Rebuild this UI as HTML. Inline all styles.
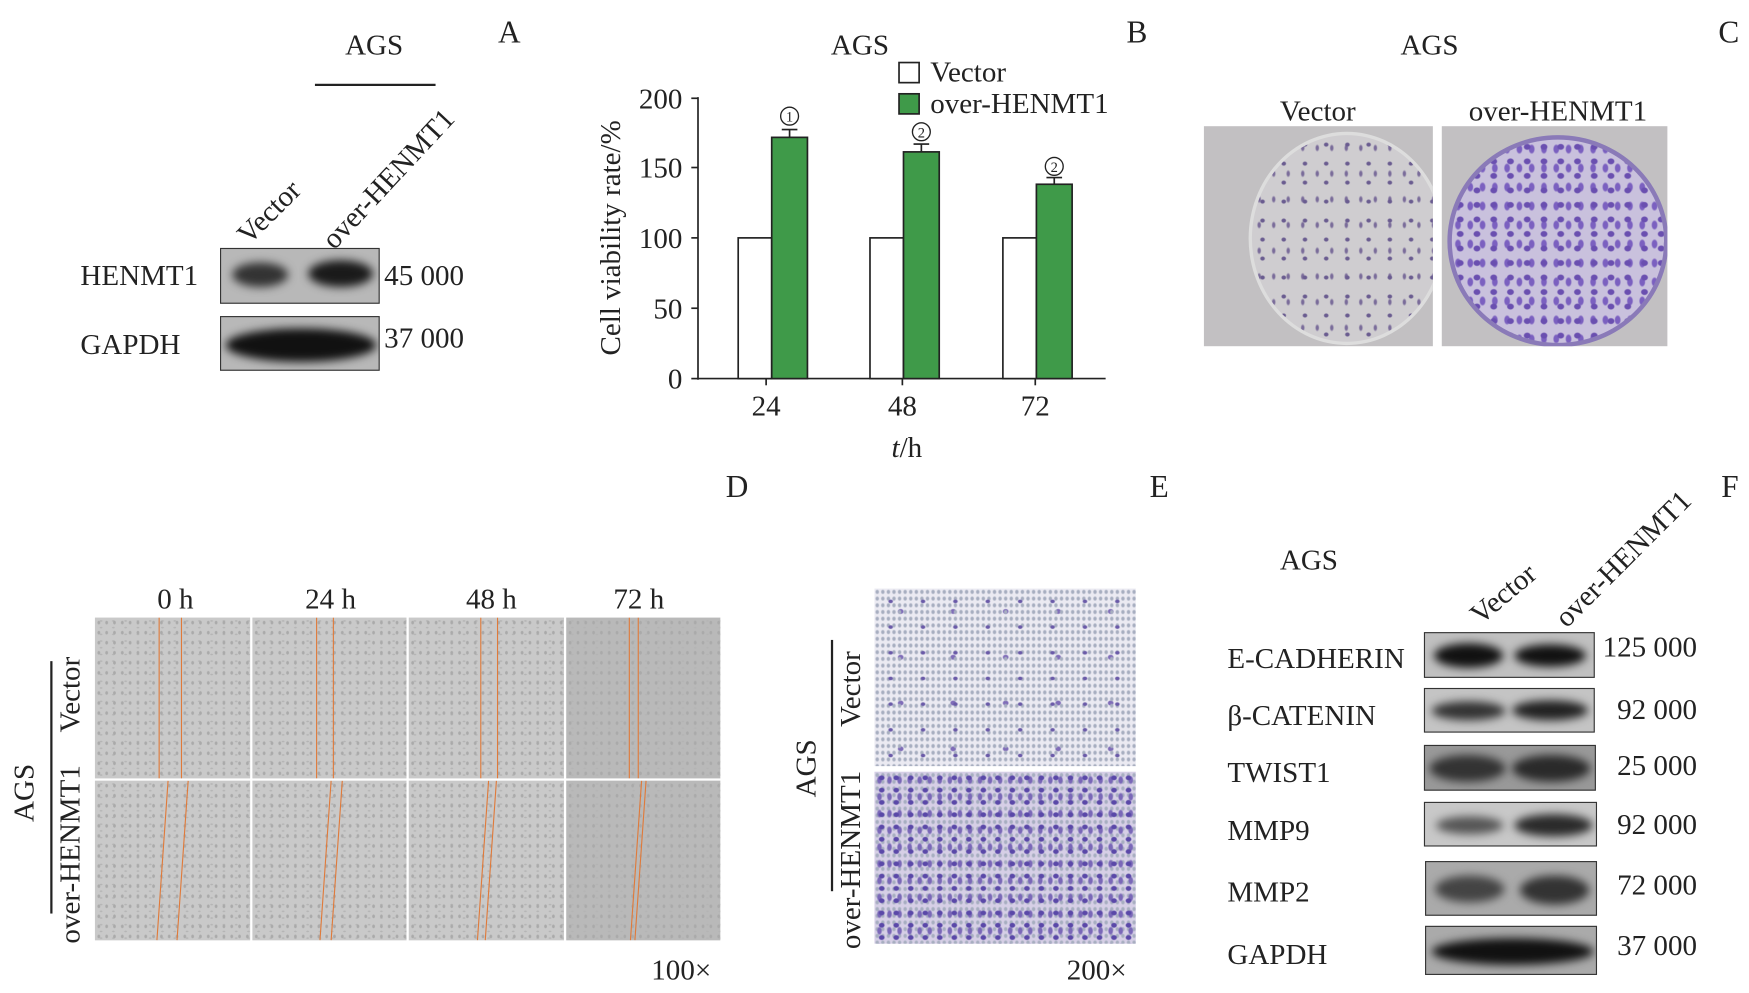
<!DOCTYPE html>
<html><head><meta charset="utf-8"><style>
html,body{margin:0;padding:0;background:#fff;width:1749px;height:993px;overflow:hidden}
#w{position:absolute;left:0;top:0;width:1566px;height:889px;transform:scale(1.1168);transform-origin:0 0;font-family:"Liberation Serif",serif;color:#222}
.t{position:absolute;font-size:26px;white-space:nowrap;line-height:1}
.c{transform:translate(-50%,-50%)}
.blot{position:absolute;border:1.5px solid #333;background:#b8b8b8;overflow:hidden;box-sizing:border-box}
.band{position:absolute;border-radius:50%;background:#111;filter:blur(4px)}
.img{position:absolute;overflow:hidden}
.sc{background:#c9c9c9;background-image:radial-gradient(#aaa 1px,transparent 1.5px),radial-gradient(#b4b4b4 1px,transparent 1.5px);background-size:7px 9px,11px 6px}
.sc2{background-color:#b9b9b9}
.ol{position:absolute;top:0;width:1px;height:100%;background:#e07a3a}
.tw{background:#ebeaf2;background-image:radial-gradient(#6a5aa8 1.5px,transparent 2.5px),radial-gradient(#a7aec0 1px,transparent 2px),radial-gradient(#7f6cb8 2px,transparent 3px);background-size:29px 23px,5px 6px,47px 41px}
.tw2{background:#d6cfe6;background-image:radial-gradient(#5a48a8 2px,transparent 3px),radial-gradient(#7a68b8 1.5px,transparent 2.5px),radial-gradient(#a7aec0 1px,transparent 2px);background-size:13px 11px,9px 15px,5px 6px}
.dish{background:#c2c0c2}
</style></head><body><div id="w">

<!-- Panel A -->
<div class="t c" style="left:335px;top:41px">AGS</div>
<div style="position:absolute;left:282px;top:75px;width:108px;height:2px;background:#222"></div>
<div class="t c" style="left:456px;top:30px;font-size:28px">A</div>
<div class="t" style="left:208px;top:205px;transform:rotate(-45deg);transform-origin:0 0">Vector</div>
<div class="t" style="left:284px;top:210px;transform:rotate(-47deg);transform-origin:0 0">over-HENMT1</div>
<div class="t" style="left:72px;top:234px">HENMT1</div>
<div class="t" style="left:72px;top:296px">GAPDH</div>
<div class="t" style="left:344px;top:234px">45 000</div>
<div class="t" style="left:344px;top:290px">37 000</div>
<div class="blot" style="left:197px;top:222px;width:143px;height:50px"><div class="band" style="left:10px;top:12px;width:50px;height:22px;background:#333"></div><div class="band" style="left:78px;top:10px;width:58px;height:24px;background:#1a1a1a"></div></div>
<div class="blot" style="left:197px;top:283px;width:143px;height:49px"><div class="band" style="left:4px;top:10px;width:135px;height:30px"></div></div>

<!-- Panel B -->
<div class="t c" style="left:770px;top:41px">AGS</div>
<div class="t c" style="left:1018px;top:30px;font-size:28px">B</div>
<svg style="position:absolute;left:0;top:0" width="1566" height="889" font-family="Liberation Serif" font-size="26" fill="#222">
<line x1="625" y1="87" x2="625" y2="340" stroke="#222" stroke-width="1.5"/>
<line x1="625" y1="339" x2="990" y2="339" stroke="#222" stroke-width="1.5"/>
<g stroke="#222" stroke-width="1.5"><line x1="619" y1="339" x2="625" y2="339"/><line x1="619" y1="276" x2="625" y2="276"/><line x1="619" y1="213" x2="625" y2="213"/><line x1="619" y1="150" x2="625" y2="150"/><line x1="619" y1="88" x2="625" y2="88"/>
<line x1="686" y1="339" x2="686" y2="345"/><line x1="808" y1="339" x2="808" y2="345"/><line x1="927" y1="339" x2="927" y2="345"/></g>
<g text-anchor="end"><text x="611" y="348">0</text><text x="611" y="285">50</text><text x="611" y="222">100</text><text x="611" y="159">150</text><text x="611" y="97">200</text></g>
<g text-anchor="middle"><text x="686" y="372">24</text><text x="808" y="372">48</text><text x="927" y="372">72</text></g>
<text x="812" y="409" text-anchor="middle"><tspan font-style="italic">t</tspan>/h</text>
<text transform="translate(555,213) rotate(-90)" text-anchor="middle">Cell viability rate/%</text>
<g stroke="#222" stroke-width="1.5">
<rect x="661" y="213" width="30" height="126" fill="#fff"/><rect x="691" y="123" width="32" height="216" fill="#3f9a49"/>
<rect x="779" y="213" width="30" height="126" fill="#fff"/><rect x="809" y="136" width="32" height="203" fill="#3f9a49"/>
<rect x="898" y="213" width="30" height="126" fill="#fff"/><rect x="928" y="165" width="32" height="174" fill="#3f9a49"/>
<line x1="707" y1="123" x2="707" y2="116"/><line x1="700" y1="116" x2="714" y2="116"/>
<line x1="825" y1="136" x2="825" y2="129"/><line x1="818" y1="129" x2="832" y2="129"/>
<line x1="944" y1="165" x2="944" y2="159"/><line x1="937" y1="159" x2="951" y2="159"/>
<rect x="805" y="56" width="18" height="18" fill="#fff"/><rect x="805" y="84" width="18" height="18" fill="#3f9a49"/>
</g>
<g fill="none" stroke="#222" stroke-width="1.2"><circle cx="707" cy="104" r="8"/><circle cx="825" cy="118" r="8"/><circle cx="944" cy="149" r="8"/></g>
<g font-size="13" text-anchor="middle"><text x="707" y="109">1</text><text x="825" y="123">2</text><text x="944" y="154">2</text></g>
<text x="833" y="73">Vector</text><text x="833" y="101">over-HENMT1</text>
</svg>

<!-- Panel C -->
<div class="t c" style="left:1280px;top:41px">AGS</div>
<div class="t c" style="left:1548px;top:30px;font-size:28px">C</div>
<div class="t c" style="left:1180px;top:100px">Vector</div>
<div class="t c" style="left:1395px;top:100px">over-HENMT1</div>
<div class="img dish" style="left:1078px;top:113px;width:205px;height:197px"><div style="position:absolute;left:40px;top:5px;width:170px;height:185px;border-radius:50%;border:3px solid #ddd;background:#cfcdd0;background-image:radial-gradient(#6a5c90 1.5px,transparent 2.5px),radial-gradient(#7a6c9a 1px,transparent 2px);background-size:19px 17px,13px 23px"></div></div>
<div class="img dish" style="left:1291px;top:113px;width:202px;height:197px"><div style="position:absolute;left:5px;top:8px;width:190px;height:182px;border-radius:50%;border:4px solid #8a7ab8;background:#c9c1dd;background-image:radial-gradient(#6a4fb0 2.5px,transparent 3.5px),radial-gradient(#7b60c0 2px,transparent 3px);background-size:15px 13px,11px 17px"></div></div>

<div class="t c" style="left:660px;top:437px;font-size:28px">D</div>
<div class="t c" style="left:1038px;top:437px;font-size:28px">E</div>
<div class="t c" style="left:1549px;top:437px;font-size:28px">F</div>

<!-- Panel D -->
<div class="t c" style="left:157px;top:537px">0 h</div>
<div class="t c" style="left:296px;top:537px">24 h</div>
<div class="t c" style="left:440px;top:537px">48 h</div>
<div class="t c" style="left:572px;top:537px">72 h</div>
<div class="img sc" style="left:85px;top:553px;width:139px;height:144px"><div class="ol" style="left:57px"></div><div class="ol" style="left:77px"></div></div>
<div class="img sc" style="left:226px;top:553px;width:138px;height:144px"><div class="ol" style="left:57px"></div><div class="ol" style="left:72px"></div></div>
<div class="img sc" style="left:366px;top:553px;width:139px;height:144px"><div class="ol" style="left:64px"></div><div class="ol" style="left:79px"></div></div>
<div class="img sc sc2" style="left:507px;top:553px;width:138px;height:144px"><div class="ol" style="left:56px"></div><div class="ol" style="left:64px"></div></div>
<div class="img sc" style="left:85px;top:699px;width:139px;height:143px"><div class="ol" style="left:60px;transform:rotate(4deg)"></div><div class="ol" style="left:78px;transform:rotate(4deg)"></div></div>
<div class="img sc" style="left:226px;top:699px;width:138px;height:143px"><div class="ol" style="left:65px;transform:rotate(4deg)"></div><div class="ol" style="left:75px;transform:rotate(4deg)"></div></div>
<div class="img sc" style="left:366px;top:699px;width:139px;height:143px"><div class="ol" style="left:66px;transform:rotate(4deg)"></div><div class="ol" style="left:73px;transform:rotate(4deg)"></div></div>
<div class="img sc sc2" style="left:507px;top:699px;width:138px;height:143px"><div class="ol" style="left:62px;transform:rotate(4deg)"></div><div class="ol" style="left:66px;transform:rotate(4deg)"></div></div>
<div class="t c" style="left:22px;top:710px;transform:translate(-50%,-50%) rotate(-90deg)">AGS</div>
<div style="position:absolute;left:45px;top:592px;width:1.5px;height:226px;background:#222"></div>
<div class="t c" style="left:63px;top:622px;transform:translate(-50%,-50%) rotate(-90deg)">Vector</div>
<div class="t c" style="left:63px;top:765px;transform:translate(-50%,-50%) rotate(-90deg)">over-HENMT1</div>
<div class="t c" style="left:610px;top:869px">100×</div>

<!-- Panel E -->
<div class="img tw" style="left:783px;top:527px;width:234px;height:159px"></div>
<div class="img tw2" style="left:783px;top:691px;width:234px;height:154px"></div>
<div class="t c" style="left:722px;top:688px;transform:translate(-50%,-50%) rotate(-90deg)">AGS</div>
<div style="position:absolute;left:744px;top:573px;width:1.5px;height:225px;background:#222"></div>
<div class="t c" style="left:762px;top:617px;transform:translate(-50%,-50%) rotate(-90deg)">Vector</div>
<div class="t c" style="left:762px;top:770px;transform:translate(-50%,-50%) rotate(-90deg)">over-HENMT1</div>
<div class="t c" style="left:982px;top:869px">200×</div>

<!-- Panel F -->
<div class="t c" style="left:1172px;top:502px">AGS</div>
<div class="t" style="left:1312px;top:544px;transform:rotate(-40deg);transform-origin:0 0">Vector</div>
<div class="t" style="left:1388px;top:548px;transform:rotate(-45deg);transform-origin:0 0">over-HENMT1</div>
<div class="t" style="left:1099px;top:577px">E-CADHERIN</div>
<div class="t" style="left:1099px;top:628px">β-CATENIN</div>
<div class="t" style="left:1099px;top:679px">TWIST1</div>
<div class="t" style="left:1099px;top:731px">MMP9</div>
<div class="t" style="left:1099px;top:786px">MMP2</div>
<div class="t" style="left:1099px;top:842px">GAPDH</div>
<div class="t" style="left:1435px;top:567px">125 000</div>
<div class="t" style="left:1448px;top:623px">92 000</div>
<div class="t" style="left:1448px;top:673px">25 000</div>
<div class="t" style="left:1448px;top:726px">92 000</div>
<div class="t" style="left:1448px;top:780px">72 000</div>
<div class="t" style="left:1448px;top:834px">37 000</div>
<div class="blot" style="left:1275px;top:566px;width:153px;height:41px;background:#c0c0c0"><div class="band" style="left:8px;top:9px;width:62px;height:22px"></div><div class="band" style="left:80px;top:10px;width:64px;height:20px"></div></div>
<div class="blot" style="left:1275px;top:616px;width:153px;height:40px;background:#c4c4c4"><div class="band" style="left:6px;top:11px;width:66px;height:17px;background:#333"></div><div class="band" style="left:78px;top:10px;width:68px;height:18px;background:#222"></div></div>
<div class="blot" style="left:1275px;top:667px;width:154px;height:41px;background:#999"><div class="band" style="left:4px;top:8px;width:68px;height:24px;background:#333"></div><div class="band" style="left:78px;top:8px;width:70px;height:24px;background:#2a2a2a"></div></div>
<div class="blot" style="left:1275px;top:718px;width:155px;height:40px;background:#c8c8c8"><div class="band" style="left:10px;top:12px;width:60px;height:16px;background:#555"></div><div class="band" style="left:80px;top:10px;width:70px;height:20px;background:#2a2a2a"></div></div>
<div class="blot" style="left:1276px;top:771px;width:154px;height:49px;background:#aaa"><div class="band" style="left:8px;top:12px;width:62px;height:24px;background:#444"></div><div class="band" style="left:84px;top:12px;width:62px;height:26px;background:#333"></div></div>
<div class="blot" style="left:1276px;top:829px;width:154px;height:44px;background:#aaa"><div class="band" style="left:5px;top:10px;width:145px;height:24px"></div></div>

</div></body></html>
